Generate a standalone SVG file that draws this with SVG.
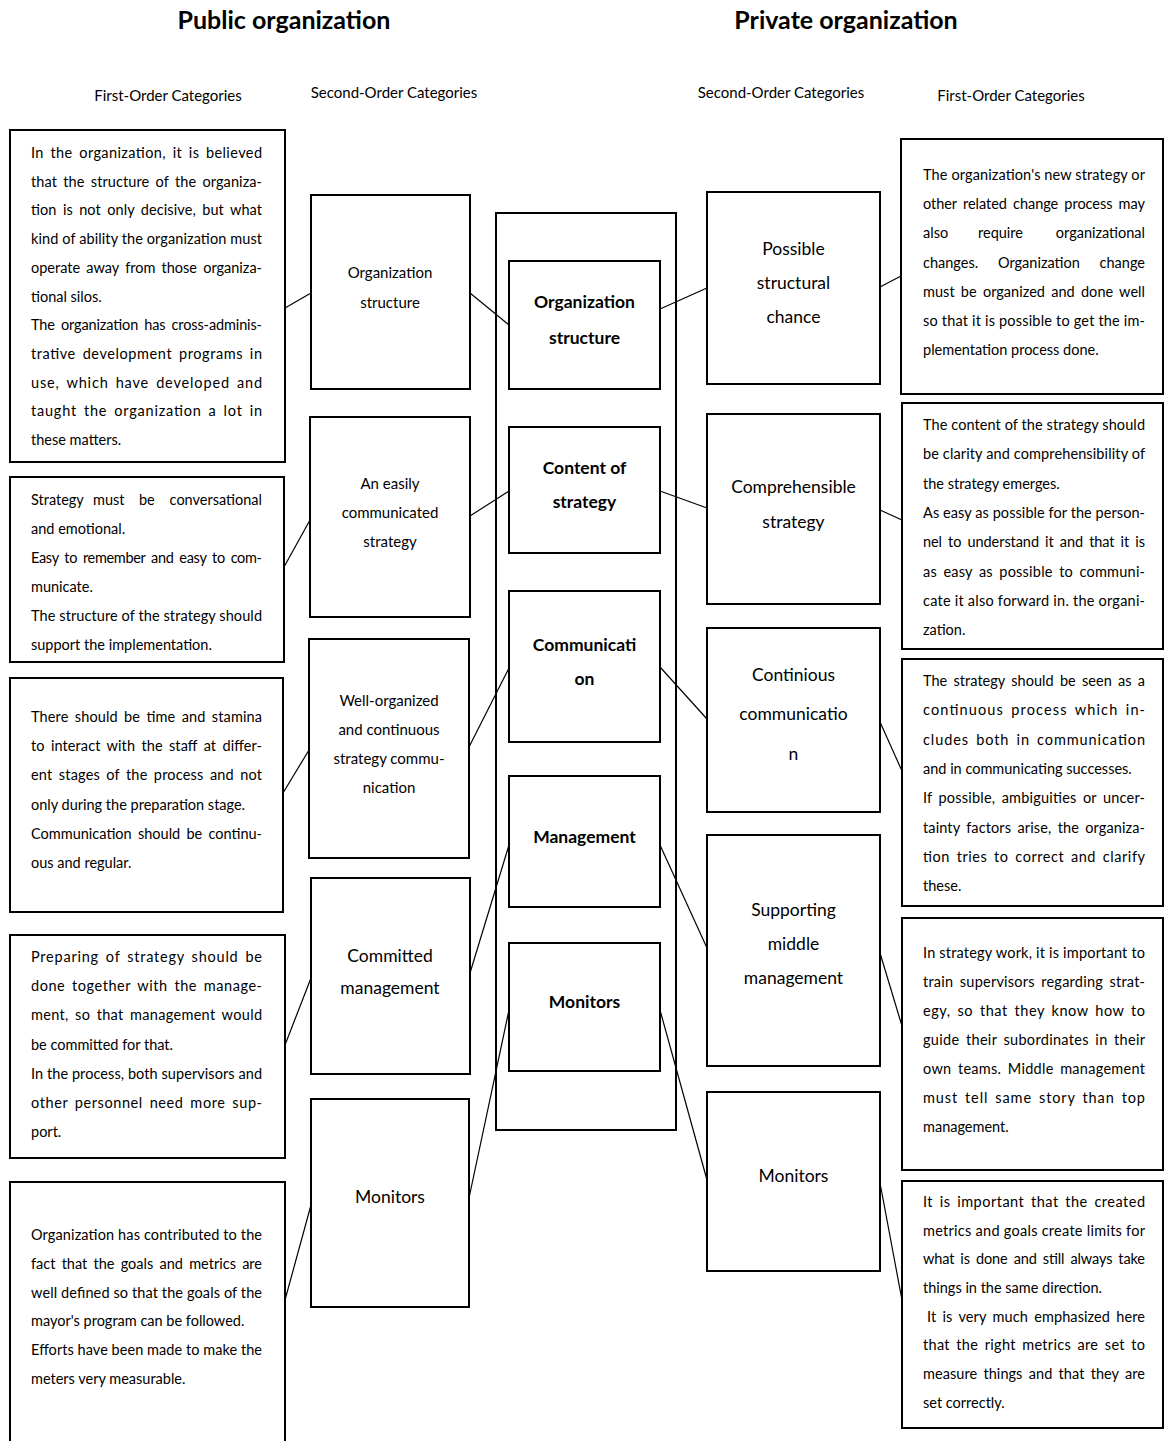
<svg xmlns="http://www.w3.org/2000/svg" width="1164" height="1441" viewBox="0 0 1164 1441">
<style>
text{font-family:Lato,"Open Sans","Liberation Sans",sans-serif;fill:#000}
.box{fill:#fff;stroke:#000;stroke-width:2}
.frame{fill:none;stroke:#000;stroke-width:2}
.conn line{stroke:#000;stroke-width:1.2}
.b{font-size:14.5px}
.j{word-spacing:2.5px}
.s{font-size:15px;text-anchor:middle}
.m{font-size:17.5px;text-anchor:middle}
.c{font-size:17.5px;font-weight:bold;text-anchor:middle}
.h{font-size:25px;font-weight:bold;text-anchor:middle}
.sh{font-size:15px;text-anchor:middle}
.e{text-anchor:end}
</style>
<defs>
<clipPath id="clipL2"><rect x="0" y="470" width="300" height="184"/></clipPath>
</defs>
<rect width="1164" height="1441" fill="#fff"/>
<g id="headings">
<text class="h" x="284" y="29">Public organization</text>
<text class="h" x="846" y="29">Private organization</text>
<text class="sh" x="168" y="101">First-Order Categories</text>
<text class="sh" x="394" y="98">Second-Order Categories</text>
<text class="sh" x="781" y="98">Second-Order Categories</text>
<text class="sh" x="1011" y="101">First-Order Categories</text>
</g>
<g id="connectors" class="conn">
<line x1="285" y1="308" x2="311" y2="293"/>
<line x1="470" y1="293" x2="509" y2="325"/>
<line x1="284" y1="567" x2="310" y2="520"/>
<line x1="470" y1="516" x2="509" y2="491"/>
<line x1="283" y1="793" x2="309" y2="750"/>
<line x1="469" y1="747" x2="509" y2="668"/>
<line x1="285" y1="1045" x2="311" y2="978"/>
<line x1="470" y1="973" x2="509" y2="845"/>
<line x1="285" y1="1300" x2="311" y2="1205"/>
<line x1="469" y1="1198" x2="509" y2="1010"/>
<line x1="660" y1="309" x2="707" y2="288"/>
<line x1="880" y1="287" x2="901" y2="276"/>
<line x1="660" y1="491" x2="707" y2="508"/>
<line x1="880" y1="510" x2="902" y2="520"/>
<line x1="660" y1="667" x2="707" y2="719"/>
<line x1="880" y1="722" x2="902" y2="771"/>
<line x1="660" y1="845" x2="707" y2="948"/>
<line x1="880" y1="953" x2="902" y2="1026"/>
<line x1="660" y1="1010" x2="707" y2="1180"/>
<line x1="880" y1="1183" x2="902" y2="1300"/>
</g>
<g id="core-frame"><rect class="frame" x="496" y="213" width="180" height="917"/></g>

<g id="pub-first-1">
<rect class="box" x="10" y="130" width="275" height="332"/>
<text class="b j" x="31" y="158" textLength="231" lengthAdjust="spacing">In the organization, it is believed</text>
<text class="b j" x="31" y="187" textLength="231" lengthAdjust="spacing">that the structure of the organiza-</text>
<text class="b j" x="31" y="215" textLength="231" lengthAdjust="spacing">tion is not only decisive, but what</text>
<text class="b" x="31" y="244" textLength="231" lengthAdjust="spacing">kind of ability the organization must</text>
<text class="b j" x="31" y="273" textLength="231" lengthAdjust="spacing">operate away from those organiza-</text>
<text class="b" x="31" y="302">tional silos.</text>
<text class="b j" x="31" y="330" textLength="231" lengthAdjust="spacing">The organization has cross-adminis-</text>
<text class="b j" x="31" y="359" textLength="231" lengthAdjust="spacing">trative development programs in</text>
<text class="b j" x="31" y="388" textLength="231" lengthAdjust="spacing">use, which have developed and</text>
<text class="b j" x="31" y="416" textLength="231" lengthAdjust="spacing">taught the organization a lot in</text>
<text class="b" x="31" y="445">these matters.</text>
</g>
<g id="pub-first-2">
<rect class="box" x="10" y="477" width="274" height="185"/>
<text class="b" x="31" y="505">Strategy</text>
<text class="b" x="93" y="505">must</text>
<text class="b" x="139" y="505">be</text>
<text class="b e" x="262" y="505">conversational</text>
<text class="b" x="31" y="534">and emotional.</text>
<text class="b j" x="31" y="563" textLength="231" lengthAdjust="spacing">Easy to remember and easy to com-</text>
<text class="b" x="31" y="592">municate.</text>
<text class="b" x="31" y="621" textLength="231" lengthAdjust="spacing">The structure of the strategy should</text>
<text class="b" x="31" y="650" clip-path="url(#clipL2)">support the implementation.</text>
</g>
<g id="pub-first-3">
<rect class="box" x="10" y="678" width="273" height="234"/>
<text class="b j" x="31" y="722" textLength="231" lengthAdjust="spacing">There should be time and stamina</text>
<text class="b j" x="31" y="751" textLength="231" lengthAdjust="spacing">to interact with the staff at differ-</text>
<text class="b j" x="31" y="780" textLength="231" lengthAdjust="spacing">ent stages of the process and not</text>
<text class="b" x="31" y="810">only during the preparation stage.</text>
<text class="b j" x="31" y="839" textLength="231" lengthAdjust="spacing">Communication should be continu-</text>
<text class="b" x="31" y="868">ous and regular.</text>
</g>
<g id="pub-first-4">
<rect class="box" x="10" y="935" width="275" height="223"/>
<text class="b j" x="31" y="962" textLength="231" lengthAdjust="spacing">Preparing of strategy should be</text>
<text class="b j" x="31" y="991" textLength="231" lengthAdjust="spacing">done together with the manage-</text>
<text class="b j" x="31" y="1020" textLength="231" lengthAdjust="spacing">ment, so that management would</text>
<text class="b" x="31" y="1050">be committed for that.</text>
<text class="b" x="31" y="1079" textLength="231" lengthAdjust="spacing">In the process, both supervisors and</text>
<text class="b j" x="31" y="1108" textLength="231" lengthAdjust="spacing">other personnel need more sup-</text>
<text class="b" x="31" y="1137">port.</text>
</g>
<g id="pub-first-5">
<rect class="box" x="10" y="1182" width="275" height="300"/>
<text class="b" x="31" y="1240" textLength="231" lengthAdjust="spacing">Organization has contributed to the</text>
<text class="b j" x="31" y="1269" textLength="231" lengthAdjust="spacing">fact that the goals and metrics are</text>
<text class="b" x="31" y="1298" textLength="231" lengthAdjust="spacing">well defined so that the goals of the</text>
<text class="b" x="31" y="1326">mayor's program can be followed.</text>
<text class="b" x="31" y="1355" textLength="231" lengthAdjust="spacing">Efforts have been made to make the</text>
<text class="b" x="31" y="1384">meters very measurable.</text>
</g>

<g id="pub-second-1">
<rect class="box" x="311" y="195" width="159" height="194"/>
<text class="s" x="390" y="278">Organization</text>
<text class="s" x="390" y="308">structure</text>
</g>
<g id="pub-second-2">
<rect class="box" x="310" y="417" width="160" height="200"/>
<text class="s" x="390" y="489">An easily</text>
<text class="s" x="390" y="518">communicated</text>
<text class="s" x="390" y="547">strategy</text>
</g>
<g id="pub-second-3">
<rect class="box" x="309" y="639" width="160" height="219"/>
<text class="s" x="389" y="706">Well-organized</text>
<text class="s" x="389" y="735">and continuous</text>
<text class="s" x="389" y="764">strategy commu-</text>
<text class="s" x="389" y="793">nication</text>
</g>
<g id="pub-second-4">
<rect class="box" x="311" y="878" width="159" height="196"/>
<text class="m" x="390" y="962">Committed</text>
<text class="m" x="390" y="994">management</text>
</g>
<g id="pub-second-5">
<rect class="box" x="311" y="1099" width="158" height="208"/>
<text class="m" x="390" y="1203">Monitors</text>
</g>

<g id="core-1">
<rect class="box" x="509" y="261" width="151" height="128"/>
<text class="c" x="584.5" y="308">Organization</text>
<text class="c" x="584.5" y="344">structure</text>
</g>
<g id="core-2">
<rect class="box" x="509" y="427" width="151" height="126"/>
<text class="c" x="584.5" y="474">Content of</text>
<text class="c" x="584.5" y="508">strategy</text>
</g>
<g id="core-3">
<rect class="box" x="509" y="591" width="151" height="151"/>
<text class="c" x="584.5" y="651">Communicati</text>
<text class="c" x="584.5" y="685">on</text>
</g>
<g id="core-4">
<rect class="box" x="509" y="776" width="151" height="131"/>
<text class="c" x="584.5" y="843">Management</text>
</g>
<g id="core-5">
<rect class="box" x="509" y="943" width="151" height="128"/>
<text class="c" x="584.5" y="1008">Monitors</text>
</g>

<g id="priv-second-1">
<rect class="box" x="707" y="192" width="173" height="192"/>
<text class="m" x="793.5" y="255">Possible</text>
<text class="m" x="793.5" y="289">structural</text>
<text class="m" x="793.5" y="323">chance</text>
</g>
<g id="priv-second-2">
<rect class="box" x="707" y="414" width="173" height="190"/>
<text class="m" x="793.5" y="493">Comprehensible</text>
<text class="m" x="793.5" y="528">strategy</text>
</g>
<g id="priv-second-3">
<rect class="box" x="707" y="628" width="173" height="184"/>
<text class="m" x="793.5" y="681">Continious</text>
<text class="m" x="793.5" y="720">communicatio</text>
<text class="m" x="793.5" y="760">n</text>
</g>
<g id="priv-second-4">
<rect class="box" x="707" y="835" width="173" height="231"/>
<text class="m" x="793.5" y="916">Supporting</text>
<text class="m" x="793.5" y="950">middle</text>
<text class="m" x="793.5" y="984">management</text>
</g>
<g id="priv-second-5">
<rect class="box" x="707" y="1092" width="173" height="179"/>
<text class="m" x="793.5" y="1182">Monitors</text>
</g>

<g id="priv-first-1">
<rect class="box" x="901" y="139" width="262" height="255"/>
<text class="b" x="923" y="180" textLength="222" lengthAdjust="spacing">The organization's new strategy or</text>
<text class="b j" x="923" y="209" textLength="222" lengthAdjust="spacing">other related change process may</text>
<text class="b" x="923" y="238">also</text>
<text class="b" x="978" y="238">require</text>
<text class="b e" x="1145" y="238">organizational</text>
<text class="b" x="923" y="268">changes.</text>
<text class="b" x="998" y="268">Organization</text>
<text class="b e" x="1145" y="268">change</text>
<text class="b j" x="923" y="297" textLength="222" lengthAdjust="spacing">must be organized and done well</text>
<text class="b" x="923" y="326" textLength="222" lengthAdjust="spacing">so that it is possible to get the im-</text>
<text class="b" x="923" y="355">plementation process done.</text>
</g>
<g id="priv-first-2">
<rect class="box" x="902" y="403" width="261" height="246"/>
<text class="b" x="923" y="430" textLength="222" lengthAdjust="spacing">The content of the strategy should</text>
<text class="b" x="923" y="459" textLength="222" lengthAdjust="spacing">be clarity and comprehensibility of</text>
<text class="b" x="923" y="489">the strategy emerges.</text>
<text class="b" x="923" y="518" textLength="222" lengthAdjust="spacing">As easy as possible for the person-</text>
<text class="b j" x="923" y="547" textLength="222" lengthAdjust="spacing">nel to understand it and that it is</text>
<text class="b j" x="923" y="577" textLength="222" lengthAdjust="spacing">as easy as possible to communi-</text>
<text class="b" x="923" y="606" textLength="222" lengthAdjust="spacing">cate it also forward in. the organi-</text>
<text class="b" x="923" y="635">zation.</text>
</g>
<g id="priv-first-3">
<rect class="box" x="902" y="659" width="261" height="247"/>
<text class="b j" x="923" y="686" textLength="222" lengthAdjust="spacing">The strategy should be seen as a</text>
<text class="b j" x="923" y="715" textLength="222" lengthAdjust="spacing">continuous process which in-</text>
<text class="b j" x="923" y="745" textLength="222" lengthAdjust="spacing">cludes both in communication</text>
<text class="b" x="923" y="774">and in communicating successes.</text>
<text class="b j" x="923" y="803" textLength="222" lengthAdjust="spacing">If possible, ambiguities or uncer-</text>
<text class="b j" x="923" y="833" textLength="222" lengthAdjust="spacing">tainty factors arise, the organiza-</text>
<text class="b j" x="923" y="862" textLength="222" lengthAdjust="spacing">tion tries to correct and clarify</text>
<text class="b" x="923" y="891">these.</text>
</g>
<g id="priv-first-4">
<rect class="box" x="902" y="918" width="261" height="252"/>
<text class="b" x="923" y="958" textLength="222" lengthAdjust="spacing">In strategy work, it is important to</text>
<text class="b j" x="923" y="987" textLength="222" lengthAdjust="spacing">train supervisors regarding strat-</text>
<text class="b j" x="923" y="1016" textLength="222" lengthAdjust="spacing">egy, so that they know how to</text>
<text class="b j" x="923" y="1045" textLength="222" lengthAdjust="spacing">guide their subordinates in their</text>
<text class="b j" x="923" y="1074" textLength="222" lengthAdjust="spacing">own teams. Middle management</text>
<text class="b j" x="923" y="1103" textLength="222" lengthAdjust="spacing">must tell same story than top</text>
<text class="b" x="923" y="1132">management.</text>
</g>
<g id="priv-first-5">
<rect class="box" x="902" y="1181" width="261" height="247"/>
<text class="b j" x="923" y="1207" textLength="222" lengthAdjust="spacing">It is important that the created</text>
<text class="b" x="923" y="1236" textLength="222" lengthAdjust="spacing">metrics and goals create limits for</text>
<text class="b j" x="923" y="1264" textLength="222" lengthAdjust="spacing">what is done and still always take</text>
<text class="b" x="923" y="1293">things in the same direction.</text>
<text class="b j" x="927" y="1322" textLength="218" lengthAdjust="spacing">It is very much emphasized here</text>
<text class="b j" x="923" y="1350" textLength="222" lengthAdjust="spacing">that the right metrics are set to</text>
<text class="b j" x="923" y="1379" textLength="222" lengthAdjust="spacing">measure things and that they are</text>
<text class="b" x="923" y="1408">set correctly.</text>
</g>
</svg>
